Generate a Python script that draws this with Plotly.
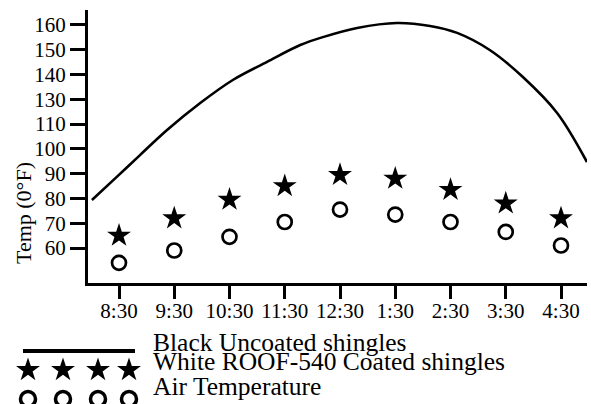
import numpy as np
import plotly.graph_objects as go

# ---------------- data ----------------
time_labels = ["8:30", "9:30", "10:30", "11:30", "12:30", "1:30", "2:30", "3:30", "4:30"]
time_hours = [8.5, 9.5, 10.5, 11.5, 12.5, 13.5, 14.5, 15.5, 16.5]

white_coated = [65, 72, 79.5, 85, 89.5, 88, 83.5, 78, 72]
air_temp = [54, 59, 64.5, 70.5, 75.5, 73.5, 70.5, 66.5, 61]

black_hours = [8.01, 8.46, 8.88, 9.37, 9.97, 10.56, 11.18, 11.78, 12.19, 12.81,
               13.53, 14.13, 14.62, 15.21, 15.81, 16.43, 16.97]
black_uncoated = [79.4, 88.7, 97.5, 107.6, 127, 137.8, 145.1, 151.9, 155.1, 158.8,
                  160.8, 159.6, 156.8, 149.9, 139, 119, 94.7]

# printed y tick labels (the original axis skips 120)
y_tick_labels = [60, 70, 80, 90, 100, 110, 130, 140, 150, 160]

legend_names = ["Black Uncoated shingles", "White ROOF-540 Coated shingles", "Air Temperature"]

# ---------------- layout constants ----------------
W, H = 591, 404
FONT = "Liberation Serif, Times New Roman, serif"
PX_L, PX_R, PX_T, PX_B = 88, 587, 10, 283

# evenly spaced axis slots, labelled with the printed values
y_slots = [60 + 10 * i for i in range(len(y_tick_labels))]


def to_axis(v):
    # piecewise-linear map from printed label values to evenly spaced slots,
    # extended linearly (10 units per step) beyond both ends
    xp = [y_tick_labels[0] - 100] + y_tick_labels + [y_tick_labels[-1] + 100]
    fp = [y_slots[0] - 100] + y_slots + [y_slots[-1] + 100]
    return np.interp(np.asarray(v, dtype=float), xp, fp)


def px_x(px):
    return px / W


def px_y(py):
    return 1 - py / H


fig = go.Figure()

fig.add_trace(go.Scatter(
    x=black_hours, y=to_axis(black_uncoated), mode="lines",
    line=dict(color="black", width=2.6, shape="spline", smoothing=1.0),
    showlegend=False, cliponaxis=False))
fig.add_trace(go.Scatter(
    x=time_hours, y=to_axis(white_coated), mode="markers",
    marker=dict(symbol="star", size=18, color="black", line=dict(width=0)),
    showlegend=False, cliponaxis=False))
fig.add_trace(go.Scatter(
    x=time_hours, y=to_axis(air_temp), mode="markers",
    marker=dict(symbol="circle-open", size=14, color="black", line=dict(width=2.7)),
    showlegend=False, cliponaxis=False))

# ---------------- custom legend (pixel-space overlay axes) ----------------
LEG_KEY_X = [28, 63, 98, 129]
LEG_LINE_X = [23, 135]
LEG_ROW_Y = [351, 370, 399]
LEG_TEXT_Y = [342, 361, 386]
LEG_TEXT_X = 151

fig.add_trace(go.Scatter(
    x=LEG_LINE_X, y=[LEG_ROW_Y[0]] * 2, mode="lines", xaxis="x2", yaxis="y2",
    line=dict(color="black", width=4), showlegend=False, cliponaxis=False))
fig.add_trace(go.Scatter(
    x=LEG_KEY_X, y=[LEG_ROW_Y[1]] * 4, mode="markers", xaxis="x2", yaxis="y2",
    marker=dict(symbol="star", size=18, color="black", line=dict(width=0)),
    showlegend=False, cliponaxis=False))
fig.add_trace(go.Scatter(
    x=LEG_KEY_X, y=[LEG_ROW_Y[2]] * 4, mode="markers", xaxis="x2", yaxis="y2",
    marker=dict(symbol="circle-open", size=15, color="black", line=dict(width=3.5)),
    showlegend=False, cliponaxis=False))

annotations = []
for name, ty in zip(legend_names, LEG_TEXT_Y):
    annotations.append(dict(
        text=name, x=px_x(LEG_TEXT_X), y=px_y(ty), xref="paper", yref="paper",
        xanchor="left", yanchor="middle", showarrow=False,
        font=dict(family=FONT, size=25.5, color="black")))

annotations.append(dict(
    text="Temp (0°F)", x=px_x(23), y=px_y(213), xref="paper", yref="paper",
    xanchor="center", yanchor="middle", textangle=-90, showarrow=False,
    font=dict(family=FONT, size=22, color="black")))

# x range from the plot-area pixel extents
hx = lambda px: 8.5 + (px - 119) / 55.25
yv = lambda py: 60 + (248 - py) / 2.478

fig.update_layout(
    width=W, height=H,
    margin=dict(l=0, r=0, t=0, b=0),
    paper_bgcolor="white", plot_bgcolor="rgba(0,0,0,0)",
    font=dict(family=FONT, size=21, color="black"),
    annotations=annotations,
    xaxis=dict(
        domain=[px_x(PX_L), px_x(PX_R)], range=[hx(PX_L), hx(PX_R)],
        tickvals=time_hours, ticktext=time_labels,
        showgrid=False, zeroline=False, showline=True, linecolor="black", linewidth=3,
        ticks="outside", ticklen=13, tickwidth=2.5, tickcolor="black",
        ticklabelstandoff=-6,
        tickfont=dict(family=FONT, size=21, color="black"), anchor="y"),
    yaxis=dict(
        domain=[px_y(PX_B), px_y(PX_T)], range=[yv(PX_B), yv(PX_T)],
        tickvals=y_slots, ticktext=[str(v) for v in y_tick_labels],
        showgrid=False, zeroline=False, showline=True, linecolor="black", linewidth=3,
        ticks="outside", ticklen=15, tickwidth=2.5, tickcolor="black",
        tickfont=dict(family=FONT, size=21, color="black"), anchor="x"),
    xaxis2=dict(domain=[0, 1], range=[0, W], visible=False, anchor="y2"),
    yaxis2=dict(domain=[0, 1], range=[H, 0], visible=False, anchor="x2"),
)

fig.write_html(
    "out.html",
    config={"displayModeBar": False},
    post_script="document.body.style.margin='0';document.body.style.overflow='hidden';",
)
